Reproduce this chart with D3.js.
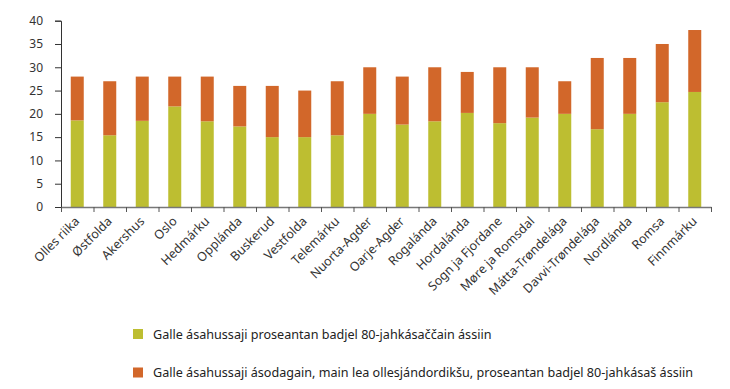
<meta charset="utf-8">
<style>
body { margin: 0; background: #fff; }
.axistext { font: 12px "Noto Sans", sans-serif; fill: #333; }
.catText { font: 12.5px "Noto Sans", sans-serif; fill: #333; }
.legendText { font: 12.6px "Noto Sans", sans-serif; fill: #222; }
</style>
<body>
<script src="https://d3js.org/d3.v7.min.js"></script>
<script>
var regions = ["Olles riika", "Østfolda", "Akershus", "Oslo", "Hedmárku", "Opplánda", "Buskerud",
  "Vestfolda", "Telemárku", "Nuorta-Agder", "Oarje-Agder", "Rogalánda", "Hordalánda",
  "Sogn ja Fjordane", "Møre ja Romsdal", "Mátta-Trøndelága", "Davvi-Trøndelága",
  "Nordlánda", "Romsa", "Finnmárku"];
// green part
var over80 = [18.6, 15.4, 18.5, 21.6, 18.4, 17.3, 15.0, 15.0, 15.4, 20.0, 17.7, 18.4, 20.2,
  18.0, 19.2, 20.0, 16.7, 20.0, 22.5, 24.7];
// bar totals
var totals = [28, 27, 28, 28, 28, 26, 26, 25, 27, 30, 28, 30, 29, 30, 30, 27, 32, 32, 35, 38];
var yTicks = [0, 5, 10, 15, 20, 25, 30, 35, 40];
var legendLabels = ["Galle ásahussaji proseantan badjel 80-jahkásaččain ássiin",
  "Galle ásahussaji ásodagain, main lea ollesjándordikšu, proseantan badjel 80-jahkásaš ássiin"];
var colors = ["#bdbe31", "#d2672a"];

var width = 730, height = 389;
var svg = d3.select("body").append("svg")
    .attr("width", width)
    .attr("height", height);

var x = d3.scaleBand().domain(regions).range([61, 711]).paddingInner(0.6).paddingOuter(0.3);
var y = d3.scaleLinear().domain([0, 40]).range([207, 20.7]);

var rows = regions.map(function(r, i) {
  return {name: r, a: over80[i], b: totals[i] - over80[i]};
});
var stack = d3.stack().keys(["a", "b"])(rows);

svg.selectAll(".layer")
  .data(stack)
  .enter().append("g")
    .attr("fill", function(d, i) { return colors[i]; })
  .selectAll("rect")
  .data(function(d) { return d; })
  .enter().append("rect")
    .attr("x", function(d) { return x(d.data.name); })
    .attr("width", x.bandwidth())
    .attr("y", function(d) { return y(d[1]); })
    .attr("height", function(d) { return y(d[0]) - y(d[1]); });

// y axis
var yAxis = svg.append("g")
    .attr("transform", "translate(61,0)")
    .call(d3.axisLeft(y).tickValues(yTicks).tickSize(6).tickPadding(12));
yAxis.select(".domain").attr("stroke", "#333");
yAxis.selectAll(".tick line").attr("stroke", "#333");
yAxis.selectAll("text").attr("class", "axistext").attr("font-size", null).attr("font-family", null);

// x axis
var xb = d3.scaleLinear().domain([0, regions.length]).range([61, 711]);
var xAxis = svg.append("g")
    .attr("transform", "translate(0,207)")
    .call(d3.axisBottom(xb).tickValues(d3.range(regions.length + 1)).tickSize(5).tickSizeOuter(0).tickFormat(""));
xAxis.select(".domain").attr("stroke", "#777").attr("stroke-width", 1.3);
xAxis.selectAll(".tick line").attr("stroke", "#555");

// category labels
svg.selectAll(".catLabel")
  .data(regions)
  .enter().append("text")
    .attr("class", "catText")
    .attr("text-anchor", "end")
    .attr("transform", function(d) {
      return "translate(" + (x(d) + x.bandwidth() / 2 + 3) + ",222) rotate(-45)";
    })
    .text(function(d) { return d; });

// legend
var legend = svg.selectAll(".legend")
  .data(legendLabels)
  .enter().append("g")
    .attr("transform", function(d, i) { return "translate(133," + (329 + i * 38.5) + ")"; });
legend.append("rect")
    .attr("width", 10).attr("height", 10)
    .attr("fill", function(d, i) { return colors[i]; });
legend.append("text")
    .attr("class", "legendText")
    .attr("x", 20).attr("y", 9.5)
    .text(function(d) { return d; });
</script>
</body>
